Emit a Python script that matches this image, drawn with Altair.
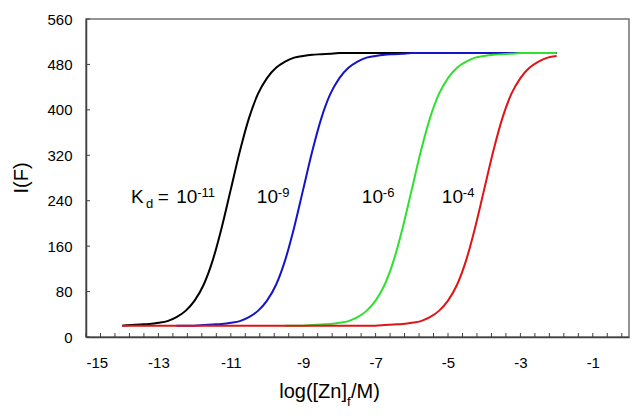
import altair as alt
import pandas as pd

# ---- data ----
x_grid = [-14.0, -13.75, -13.5, -13.25, -13.0, -12.75, -12.5, -12.25, -12.0,
          -11.75, -11.5, -11.25, -11.0, -10.75, -10.5, -10.25, -10.0, -9.75,
          -9.5, -9.25, -9.0, -8.75, -8.5, -8.25, -8.0, -7.75, -7.5, -7.25,
          -7.0, -6.75, -6.5, -6.25, -6.0, -5.75, -5.5, -5.25, -5.0, -4.75,
          -4.5, -4.25, -4.0, -3.75, -3.5, -3.25, -3.0, -2.75, -2.5, -2.25, -2.0]

kd_11 = [20, 21, 22, 23, 25, 28, 35, 46, 64, 92, 135, 193, 260, 327, 385, 428,
         456, 474, 485, 492, 495, 497, 498, 499, 500,
         500, 500, 500, 500, 500, 500, 500, 500, 500, 500, 500, 500,
         500, 500, 500, 500, 500, 500, 500, 500, 500, 500, 500, 500]
kd_9 = [None, None, None, None, None, None,
        20, 20, 20, 21, 22, 23, 25, 28, 35, 46, 64, 92, 135, 193, 260, 327,
        385, 428, 456, 474, 485, 492, 495, 497, 498, 499, 500,
        500, 500, 500, 500, 500, 500, 500, 500, 500, 500, 500, 500, 500, 500,
        500, 500]
kd_6 = [None] * 18 + [20, 20, 20, 21, 22, 23, 25, 28, 35, 46, 64, 92, 135, 193,
                      260, 327, 385, 428, 456, 474, 485, 492, 495, 497, 498,
                      499, 500, 500, 500, 500, 500]
kd_4 = [20, 20, 20, 20, 20, 20, 20, 20, 20, 20, 20, 20, 20, 20, 20, 20, 20, 20,
        20, 20, 20, 20, 20, 20, 20, 20, 20, 20,
        20, 21, 22, 23, 25, 28, 35, 46, 64, 92, 135, 193, 260, 327, 385, 428,
        456, 474, 485, 492, 495]

series_names = ["1e-11", "1e-9", "1e-6", "1e-4"]
series_vals = [kd_11, kd_9, kd_6, kd_4]
series_colors = ["#000000", "#1414c8", "#30e030", "#e01414"]

x_tick_values = [round(-15 + 0.4 * k, 1) for k in range(38)]
x_label_values = [-15, -13, -11, -9, -7, -5, -3, -1]
y_tick_values = [0, 80, 160, 240, 320, 400, 480, 560]

# annotation pieces (text, x, y in data units)
main_text = ["K", "=", "10", "10", "10", "10"]
main_x = [-13.76, -13.02, -12.51, -10.28, -7.38, -5.17]
sup_text = ["-11", "-9", "-6", "-4"]
sup_x = [-11.93, -9.70, -6.80, -4.59]
sub_text = ["d"]
sub_x = [-13.34]

FONT = "Liberation Sans"
W, H = 543, 318

xscale = alt.Scale(domain=[-15, 0], nice=False, zero=False)
yscale = alt.Scale(domain=[0, 560], nice=False, zero=True)
xaxis = alt.Axis(values=x_label_values, title=None, labelExpr="'' + datum.value")
yaxis = alt.Axis(values=y_tick_values, title=None)


def X():
    return alt.X("x:Q", scale=xscale, axis=xaxis)


def Y():
    return alt.Y("y:Q", scale=yscale, axis=yaxis)


layers = []
for name, vals, col in zip(series_names, series_vals, series_colors):
    d = pd.DataFrame({"x": x_grid, "y": vals}).dropna()
    layers.append(alt.Chart(d).mark_line(color=col, strokeWidth=2,
                                         interpolate="monotone").encode(x=X(), y=Y()))

# inside tick marks
xt = pd.DataFrame({"x": x_tick_values})
layers.append(alt.Chart(xt).mark_rule(color="#404040", strokeWidth=1).encode(
    x=X(), y=alt.value(H), y2=alt.value(H - 4)))
yt = pd.DataFrame({"y": y_tick_values})
layers.append(alt.Chart(yt).mark_rule(color="#404040", strokeWidth=1).encode(
    y=Y(), x=alt.value(0), x2=alt.value(4)))


# curve labels
def text_layer(texts, xs, yv, size):
    d = pd.DataFrame({"t": texts, "x": xs, "y": [yv] * len(texts)})
    return alt.Chart(d).mark_text(align="left", baseline="alphabetic", font=FONT,
                                  fontSize=size, color="#000000").encode(
        x=X(), y=Y(), text="t:N")


layers.append(text_layer(main_text, main_x, 235.5, 19))
layers.append(text_layer(sup_text, sup_x, 246.5, 13))
layers.append(text_layer(sub_text, sub_x, 226.5, 13))


def pixel_text(t, px, py, size, align="left", angle=0, baseline="alphabetic"):
    d = pd.DataFrame({"t": [t]})
    return alt.Chart(d).mark_text(align=align, baseline=baseline, font=FONT,
                                  fontSize=size, angle=angle, color="#000000").encode(
        x=alt.value(px), y=alt.value(py), text="t:N")


# axis titles
layers.append(pixel_text("log([Zn]", 261, 379, 20, align="right"))
layers.append(pixel_text("f", 261, 387, 13))
layers.append(pixel_text("/M)", 265, 379, 20))
layers.append(pixel_text("I(F)", -64, 159, 20, align="center", angle=270, baseline="middle"))

chart = alt.layer(*layers).properties(
    width=W, height=H,
    background="#ffffff",
    autosize=alt.AutoSizeParams(type="none"),
    padding={"left": 78, "top": 11, "right": 4, "bottom": 71},
).configure_view(
    stroke="#707070", strokeWidth=1.5
).configure_axis(
    ticks=False, grid=False, labelFont=FONT, labelFontSize=15, labelColor="#000000",
    domainColor="#404040", domainWidth=1.5
).configure_axisX(labelPadding=18).configure_axisY(labelPadding=14)

chart.save("out.html", embed_options={"renderer": "svg", "actions": False})
